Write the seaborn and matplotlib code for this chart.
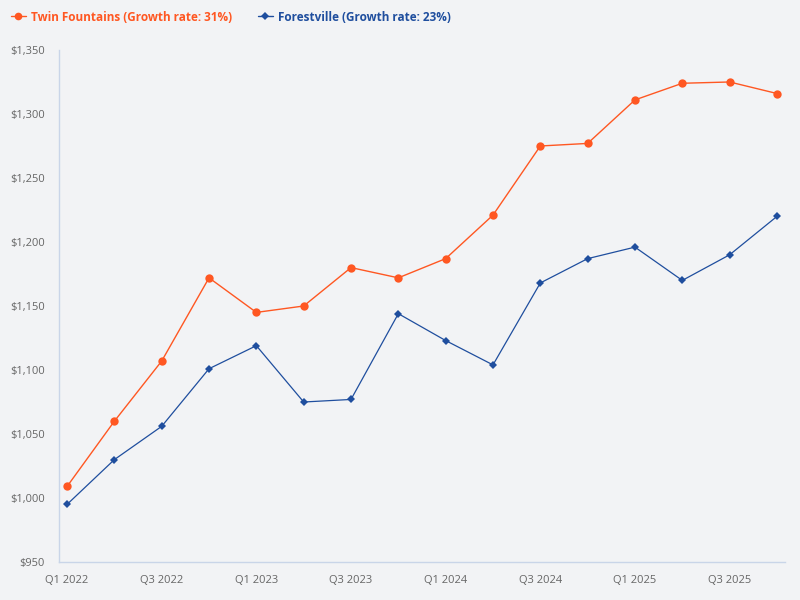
import matplotlib
matplotlib.use('Agg')
import matplotlib.pyplot as plt
import matplotlib.ticker as mticker
import pandas as pd
import seaborn as sns

quarters = ['Q1 2022', 'Q2 2022', 'Q3 2022', 'Q4 2022',
            'Q1 2023', 'Q2 2023', 'Q3 2023', 'Q4 2023',
            'Q1 2024', 'Q2 2024', 'Q3 2024', 'Q4 2024',
            'Q1 2025', 'Q2 2025', 'Q3 2025', 'Q4 2025']
twin_fountains = [1009, 1060, 1107, 1172, 1145, 1150, 1180, 1172,
                  1187, 1221, 1275, 1277, 1311, 1324, 1325, 1316]
forestville = [995, 1030, 1056, 1101, 1119, 1075, 1077, 1144,
               1123, 1104, 1168, 1187, 1196, 1170, 1190, 1220]
series_names = ['Twin Fountains (Growth rate: 31%)', 'Forestville (Growth rate: 23%)']

colors = ['#FF5722', '#1F4E9E']
bg = '#F2F3F5'

df = pd.DataFrame({
    'idx': list(range(len(quarters))) * 2,
    'value': twin_fountains + forestville,
    'series': [series_names[0]] * len(quarters) + [series_names[1]] * len(quarters),
})

sns.set_style('white')
plt.rcParams['font.family'] = ['Open Sans', 'DejaVu Sans']

fig = plt.figure(figsize=(8, 6), dpi=100, facecolor=bg)
ax = fig.add_axes([0.07375, 0.0633, 0.9075, 0.8534])
ax.set_facecolor(bg)

sns.lineplot(data=df, x='idx', y='value', hue='series', style='series',
             palette=colors, markers=['o', 'D'], dashes=False,
             linewidth=1, markersize=6, markeredgewidth=0, ax=ax)

# make the diamond a bit smaller, line a touch thinner
for line in ax.get_lines()[1:2]:
    line.set_markersize(4.5)
    line.set_linewidth(0.9)

ax.set_xlim(-0.17, len(quarters) - 1 + 0.17)
ax.set_ylim(950, 1350)
ax.set_xticks(range(0, len(quarters), 2))
ax.set_xticklabels(quarters[::2])
ax.yaxis.set_major_locator(mticker.MultipleLocator(50))
ax.yaxis.set_major_formatter(mticker.FuncFormatter(lambda v, p: f'${v:,.0f}'))
ax.set_xlabel('')
ax.set_ylabel('')
ax.tick_params(axis='both', length=0, labelsize=8, colors='#666666')
ax.tick_params(axis='y', pad=10)
ax.tick_params(axis='x', pad=9)
for s in ['top', 'right']:
    ax.spines[s].set_visible(False)
for s in ['left', 'bottom']:
    ax.spines[s].set_color('#C9D5E8')
    ax.spines[s].set_linewidth(1)
ax.grid(False)

handles, labels = ax.get_legend_handles_labels()
leg = ax.legend(handles, labels, loc='upper left', bbox_to_anchor=(0.0, 1.0),
                bbox_transform=fig.transFigure, ncol=2, frameon=False,
                fontsize=8.5, handlelength=1.3, handletextpad=0.4, columnspacing=2.2,
                borderaxespad=0.5)
for h, ms in zip(leg.legend_handles, [5.5, 4]):
    h.set_markersize(ms)
for t, c in zip(leg.get_texts(), colors):
    t.set_color(c)
    t.set_fontweight('bold')

fig.savefig('out.png', dpi=100, facecolor=bg)
